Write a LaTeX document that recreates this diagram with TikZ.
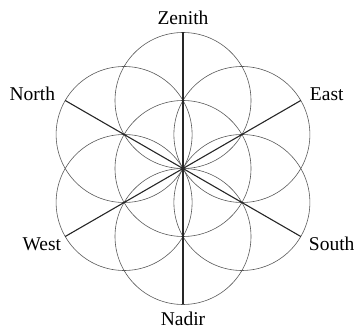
\documentclass[tikz,border=0pt]{standalone}
\usepackage{fontspec}
\setmainfont{Liberation Serif}
\begin{document}
\begin{tikzpicture}[x=1pt,y=1pt,
    ring/.style={black!65, line width=0.6pt},
    ray/.style={black!85, line width=1.1pt},
    lbl/.style={inner sep=0pt, font=\fontsize{19.5}{22}\selectfont}]
  \useasboundingbox (0,0) rectangle (356,329);
  \coordinate (c) at (183,160.5);
  % circles
  \draw[ring] (c) circle (68pt);
  \foreach \a in {90,30,-30,-90,-150,150}
    \draw[ring] (c) ++(\a:68pt) circle (68pt);
  % ends of the rays
  \foreach \a/\n in {90/zen,30/east,-30/south,-90/nadir,-150/west,150/north}
    \coordinate (\n) at ([shift={(\a:136pt)}]c);
  \foreach \n in {zen,east,south,nadir,west,north}
    \draw[ray] (c) -- (\n);
  % labels
  \node[lbl, anchor=base] (lzen) at ([yshift=8pt]zen) {Zenith};
  \node[lbl, anchor=base] (lnadir) at ([yshift=-21.5pt]nadir) {Nadir};
  \node[lbl, anchor=base east] (lnorth) at ([shift={(-10pt,-0.5pt)}]north) {North};
  \node[lbl, anchor=base west] (least) at ([shift={(9pt,-0.5pt)}]east) {East};
  \node[lbl, anchor=base east] (lwest) at ([shift={(-4pt,-14pt)}]west) {West};
  \node[lbl, anchor=base west] (lsouth) at ([shift={(8pt,-14pt)}]south) {South};
\end{tikzpicture}
\end{document}
